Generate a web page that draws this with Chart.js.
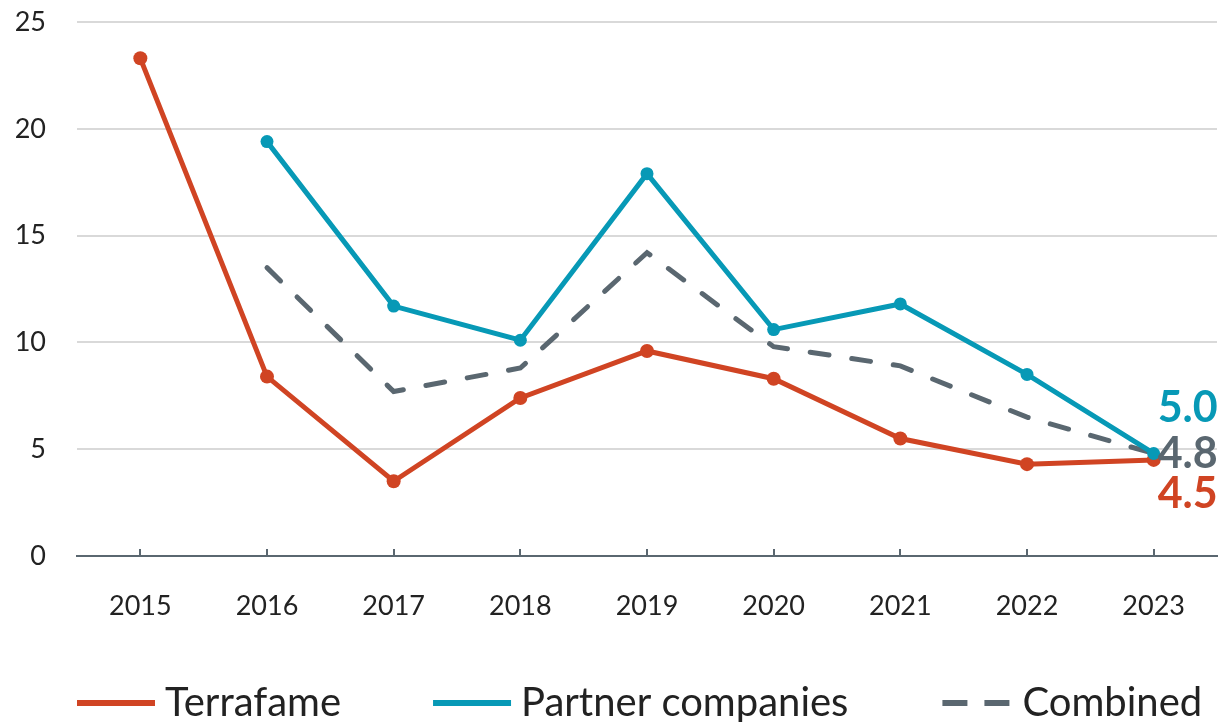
<!DOCTYPE html>
<html>
<head>
<meta charset="utf-8">
<script src="https://cdn.jsdelivr.net/npm/chart.js@4"></script>
<style>
html,body{margin:0;padding:0;background:#fff;}
canvas{display:block;}
</style>
</head>
<body>
<canvas id="c" width="1225" height="722"></canvas>
<script>
const categories = ["2015","2016","2017","2018","2019","2020","2021","2022","2023"];
const terrafame = [23.3, 8.4, 3.5, 7.4, 9.6, 8.3, 5.5, 4.3, 4.5];
const partners  = [null, 19.4, 11.7, 10.1, 17.9, 10.6, 11.8, 8.5, 4.8];
const combined  = [null, 13.5, 7.7, 8.8, 14.2, 9.8, 8.9, 6.5, 4.8];
const yTicks = [0, 5, 10, 15, 20, 25];
const endLabels = ["4.5", "5.0", "4.8"]; // Terrafame, Partner companies, Combined
const seriesNames = ["Terrafame", "Partner companies", "Combined"];

const RED = "#d04423", TEAL = "#0799b6", GRAY = "#5a6770";
const FONT = "Lato, 'Open Sans', sans-serif";

const extras = {
  id: "extras",
  afterDraw(chart) {
    const ctx = chart.ctx;
    const xs = chart.scales.x;
    const area = chart.chartArea;
    ctx.save();
    ctx.strokeStyle = GRAY;
    ctx.lineWidth = 2;
    categories.forEach((c, i) => {
      const px = Math.round(xs.getPixelForValue(i));
      ctx.beginPath();
      ctx.moveTo(px, area.bottom);
      ctx.lineTo(px, area.bottom - 7);
      ctx.stroke();
    });
    ctx.restore();

    const last = categories.length - 1;
    const offsets = [34, -45, 1];
    ctx.save();
    ctx.font = "bold 43px " + FONT;
    ctx.textAlign = "left";
    ctx.textBaseline = "middle";
    chart.data.datasets.forEach((ds, di) => {
      const meta = chart.getDatasetMeta(di);
      const pt = meta.data[last];
      ctx.fillStyle = ds.borderColor;
      ctx.fillText(endLabels[di], pt.x + 4, pt.y + offsets[di]);
    });
    ctx.restore();

    ctx.save();
    const ly = 703;
    let x = 77;
    ctx.font = "40px " + FONT;
    ctx.textBaseline = "middle";
    ctx.textAlign = "left";
    chart.data.datasets.forEach((ds, di) => {
      ctx.strokeStyle = ds.borderColor;
      ctx.lineWidth = 6;
      ctx.lineCap = "butt";
      if (ds.borderDash && ds.borderDash.length) {
        ctx.beginPath();
        ctx.moveTo(x + 2, ly); ctx.lineTo(x + 27, ly);
        ctx.moveTo(x + 44, ly); ctx.lineTo(x + 69, ly);
        ctx.stroke();
        ctx.fillStyle = "#222";
        ctx.fillText(ds.label, x + 82, ly);
      } else {
        ctx.beginPath();
        ctx.moveTo(x, ly); ctx.lineTo(x + 78, ly);
        ctx.stroke();
        ctx.fillStyle = "#222";
        ctx.fillText(ds.label, x + 88, ly);
      }
      x += 88 + ctx.measureText(ds.label).width + 92;
    });
    ctx.restore();
  }
};

new Chart(document.getElementById("c"), {
  type: "line",
  data: {
    labels: categories,
    datasets: [
      {
        label: seriesNames[0], data: terrafame, borderColor: RED, backgroundColor: RED,
        borderWidth: 5, pointRadius: 7, pointBorderWidth: 0, pointBackgroundColor: RED,
        tension: 0, order: 1
      },
      {
        label: seriesNames[1], data: partners, borderColor: TEAL, backgroundColor: TEAL,
        borderWidth: 5, pointRadius: 6.5, pointBorderWidth: 0, pointBackgroundColor: TEAL,
        tension: 0, order: 0
      },
      {
        label: seriesNames[2], data: combined, borderColor: GRAY, backgroundColor: GRAY,
        borderWidth: 5, pointRadius: 0, borderDash: [19, 23], borderCapStyle: "round",
        tension: 0, order: 2
      }
    ]
  },
  options: {
    responsive: false,
    devicePixelRatio: 1,
    animation: false,
    layout: { padding: { top: 22, right: 8, left: 0, bottom: 0 } },
    plugins: { legend: { display: false }, tooltip: { enabled: false } },
    scales: {
      x: {
        offset: true,
        grid: { display: false },
        border: { display: true, color: GRAY, width: 2 },
        ticks: { color: "#222", font: { family: FONT, size: 27 }, padding: 26, maxRotation: 0 },
        afterFit(s) { s.height = 166; s.paddingLeft = 0; s.paddingRight = 0; }
      },
      y: {
        min: 0, max: 25,
        afterBuildTicks(s) { s.ticks = yTicks.map(v => ({ value: v })); },
        grid: { color: "#d9d9d9", lineWidth: 2, drawTicks: false },
        border: { display: false },
        ticks: { color: "#222", font: { family: FONT, size: 27 }, padding: 31 },
        afterFit(s) { s.width = 77; s.paddingTop = 0; s.paddingBottom = 0; }
      }
    }
  },
  plugins: [extras]
});
</script>
</body>
</html>
